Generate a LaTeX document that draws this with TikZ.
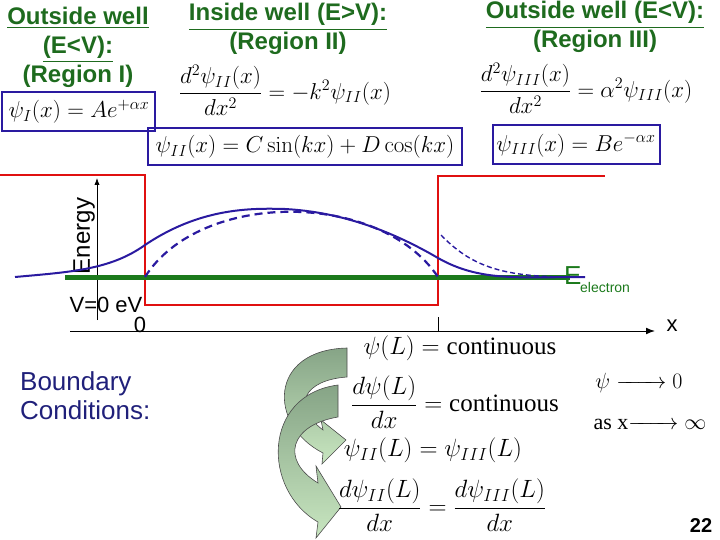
\documentclass[tikz,border=0pt]{standalone}
\usepackage{fix-cm}
\usepackage{amsmath}
\usepackage[no-math]{fontspec}
\setmainfont{Liberation Sans}
\newfontfamily\tnr{Liberation Serif}
\usetikzlibrary{arrows.meta}
\newcommand\myul[1]{\underline{#1}}
\definecolor{hgreen}{HTML}{1E6B1E}
\definecolor{wblue}{HTML}{2A1AA0}
\definecolor{wred}{HTML}{E01010}
\definecolor{egreen}{HTML}{1C7A1C}
\definecolor{bcblue}{HTML}{20207A}
\definecolor{agdark}{HTML}{86A486}
\definecolor{aglight}{HTML}{C8E6C0}
\tikzset{
 hdr/.style={text=hgreen,font=\fontsize{24}{29}\selectfont\bfseries,align=center},
 eq/.style={font=\fontsize{23}{26}\selectfont,inner sep=1pt},
 beq/.style={font=\fontsize{25}{28}\selectfont,inner sep=1pt},
 box/.style={draw=wblue,line width=2.5pt},
 lbl/.style={font=\fontsize{22}{26}\selectfont},
 barrow/.style={draw=black!70,line width=0.6pt,top color=agdark,bottom color=aglight}
}
\begin{document}
\begin{tikzpicture}[x=1pt,y=-1pt]
\useasboundingbox (0,0) rectangle (720,540);
% headers
\node[hdr] (h1) at (78,47) {\myul{Outside well}\\\myul{(E<V):}\\(Region I)};
\node[hdr] (h2) at (288,29) {\myul{Inside well (E>V):}\\(Region II)};
\node[hdr] (h3) at (595,27) {\myul{Outside well (E<V):}\\(Region III)};
% equations
\node[eq] (e1) at (79,112) {$\psi_{I}(x)=Ae^{+\alpha x}$};
\draw[box] (2,92) rectangle (155,131);
\node[eq] (e2) at (285,90) {$\dfrac{d^2\psi_{II}(x)}{dx^2}=-k^2\psi_{II}(x)$};
\node[eq] (e3) at (305,147) {$\psi_{II}(x)=C\sin(kx)+D\cos(kx)$};
\draw[box] (148,128) rectangle (462,165);
\node[eq] (e4) at (586,88) {$\dfrac{d^2\psi_{III}(x)}{dx^2}=\alpha^2\psi_{III}(x)$};
\node[eq] (e5) at (576,145) {$\psi_{III}(x)=Be^{-\alpha x}$};
\draw[box] (493,125) rectangle (660,164);
% potential
\draw[wred,line width=2.5pt] (0,175) -- (145,175) -- (145,305) -- (438,305) -- (438,176) -- (605,176);
% axes
\draw[-{Latex[length=7pt]},line width=0.8pt] (97,320) -- (97,178);
\node[lbl,rotate=90,font=\fontsize{24}{26}\selectfont] (en) at (84,236) {Energy};
\draw[-{Latex[length=9pt]},line width=1pt] (70,331) -- (655,331);
\node[lbl] (xl) at (672,326) {x};
\draw[line width=1pt] (438,317) -- (438,331);
\node[lbl] (v0) at (106,305) {V=0 eV};
\node[lbl] (z0) at (140,325) {0};
% E electron
\draw[egreen,line width=5pt] (65,277) -- (570,277);
\node[text=egreen,font=\fontsize{26}{28}\selectfont,anchor=west,inner sep=0pt] (ee) at (564,276) {E};
\node[text=egreen,font=\fontsize{14}{16}\selectfont,anchor=west,inner sep=0pt] (ee2) at (580,287) {electron};
% wavefunctions
\draw[wblue,line width=2pt] (15,277) .. controls (70,272) and (110,270) .. (145,245)
  .. controls (200,208) and (250,208) .. (285,209)
  .. controls (340,212) and (390,230) .. (438,258)
  .. controls (480,282) and (520,277) .. (585,277);
\draw[wblue,line width=2.2pt,dash pattern=on 8pt off 5pt] (145,277) .. controls (200,190) and (380,190) .. (438,277);
\draw[wblue,line width=1.4pt,dash pattern=on 5pt off 3pt] (441,235) .. controls (470,265) and (500,277) .. (570,277);
% boundary conditions
\node[text=bcblue,font=\fontsize{26}{29}\selectfont,align=left,anchor=west,inner sep=0pt] (bc) at (20,396) {Boundary\\Conditions:};
% curved block arrows
\draw[barrow] (347,348) -- (347,377) .. controls (305,380) and (290,405) .. (323,430)
  -- (321,420) -- (346,440) -- (322,464) -- (323,453)
  .. controls (268,425) and (268,350) .. (347,348) -- cycle;
\draw[barrow] (338,385) -- (338,417) .. controls (290,425) and (280,460) .. (318,483)
  -- (316,466) -- (341,507) -- (316,538) -- (318,522)
  .. controls (262,490) and (262,395) .. (338,385) -- cycle;
\node[beq] (b1) at (460,348) {$\psi(L)=\text{\tnr continuous}$};
\node[beq] (b2) at (455,402) {$\dfrac{d\psi(L)}{dx}=\text{\tnr continuous}$};
\node[beq] (b3) at (433,450) {$\psi_{II}(L)=\psi_{III}(L)$};
\node[beq] (b4) at (442,505) {$\dfrac{d\psi_{II}(L)}{dx}=\dfrac{d\psi_{III}(L)}{dx}$};
\node[eq,font=\fontsize{22}{24}\selectfont] (r1) at (639,383) {$\psi\xrightarrow{\hspace{38pt}}0$};
\node[eq,font=\fontsize{22}{24}\selectfont] (r2) at (650,422) {\tnr as x$\xrightarrow{\hspace{38pt}}\infty$};
\node[font=\fontsize{20}{22}\selectfont\bfseries] (pg) at (701,526) {22};
\end{tikzpicture}
\end{document}
